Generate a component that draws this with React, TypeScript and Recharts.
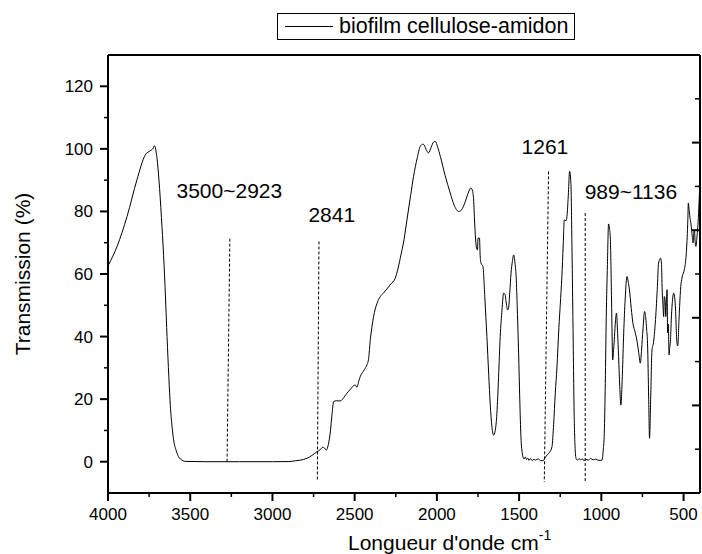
import { LineChart, Line, XAxis, YAxis, ReferenceLine, ReferenceDot, Legend } from "recharts";

const FONT = '"Liberation Sans", Arial, Helvetica, sans-serif';

// FTIR spectrum (cm-1 -> % transmission)
const wavenumbers = [
  3996, 3945, 3884, 3824, 3773, 3743, 3725, 3718, 3702, 3690,
  3675, 3662, 3650, 3641, 3630, 3621, 3610, 3601, 3585, 3571,
  3550, 3530, 3400, 3200, 3000, 2900, 2860, 2831, 2790, 2760,
  2729, 2710, 2695, 2684, 2673, 2660, 2648, 2638, 2628, 2610,
  2588, 2565, 2547, 2525, 2507, 2496, 2486, 2475, 2466, 2440,
  2425, 2415, 2405, 2395, 2385, 2365, 2344, 2324, 2304, 2280,
  2253, 2240, 2223, 2200, 2182, 2160, 2142, 2120, 2101, 2085,
  2077, 2063, 2051, 2035, 2020, 2010, 1995, 1979, 1950, 1919,
  1895, 1868, 1850, 1827, 1805, 1793, 1783, 1777, 1770, 1763,
  1758, 1753, 1750, 1741, 1737, 1732, 1720, 1708, 1696, 1685,
  1676, 1665, 1655, 1645, 1635, 1625, 1615, 1604, 1594, 1586,
  1578, 1570, 1564, 1557, 1549, 1541, 1533, 1525, 1517, 1510,
  1503, 1496, 1489, 1480, 1477, 1470, 1462, 1455, 1447, 1440,
  1432, 1420, 1410, 1400, 1385, 1370, 1355, 1345, 1331, 1315,
  1300, 1290, 1280, 1270, 1258, 1250, 1240, 1232, 1225, 1215,
  1209, 1200, 1193, 1185, 1179, 1173, 1165, 1158, 1154, 1145,
  1135, 1125, 1115, 1105, 1095, 1080, 1065, 1050, 1035, 1015,
  996, 988, 982, 976, 970, 963, 956, 950, 945, 938,
  931, 925, 920, 914, 908, 901, 895, 888, 881, 872,
  864, 855, 844, 835, 829, 818, 808, 795, 784, 773,
  763, 755, 747, 737, 730, 724, 719, 712, 707, 700,
  692, 683, 672, 660, 652, 646, 640, 634, 630, 625,
  621, 617, 612, 608, 604, 600, 597, 593, 588, 584,
  580, 575, 569, 560, 550, 540, 535, 528, 524, 517,
  510, 498, 490, 482, 474, 471, 467, 461, 455, 447,
  442, 438, 434, 429, 425, 420, 415, 410, 405, 402,
];

const transmission = [
  63, 68.8, 78.4, 90.1, 98.1, 99.4, 100.2, 101, 97, 90,
  78, 66, 52, 40, 27, 18, 11, 7, 3.5, 1.6,
  0.5, 0.1, 0, 0, 0, 0.05, 0.3, 0.5, 1.1, 2,
  3.2, 3.8, 4.6, 4.4, 3.7, 5.5, 9.5, 15, 19.2, 19.5,
  19.4, 20.6, 21.9, 23.2, 24.3, 24.5, 23.8, 25.8, 27.2, 29.5,
  31, 33, 39, 43, 46.4, 50.5, 52.8, 54, 55.2, 56.8,
  58.7, 61, 65, 71, 77.3, 85, 91.2, 97, 100.8, 101.5,
  101.2, 99.5, 98.7, 100.5, 102.2, 102.4, 100.5, 97.6, 91.5, 85.9,
  82, 80, 80.5, 83.2, 86.5, 87.5, 86.5, 84, 76, 70,
  68, 67.7, 71.5, 71.5, 66, 63.5, 62.4, 52, 40, 28,
  18.7, 11, 8.5, 10, 15.5, 27, 40, 48.5, 53.9, 53.5,
  50.7, 48.5, 49.1, 54, 60.3, 64, 66.1, 63.5, 58.1, 47,
  34.7, 20, 8, 2.5, 1.6, 0.9, 1.5, 0.7, 1.2, 0.4,
  1, 0.4, 0.8, 0.5, 0.9, 0.4, 0.3, 1, 2.1, 3,
  4.8, 12, 22, 30, 43, 50, 59.2, 69, 77.3, 77,
  78.4, 86, 92.8, 89, 70, 46.4, 14.4, 3, 1.1, 0.5,
  1, 0.6, 0.9, 0.3, 0.8, 0.5, 1, 0.6, 0.8, 0.4,
  0.5, 4, 9.1, 25, 46.4, 63, 76, 74.5, 71, 52,
  32.5, 36, 40, 45, 47.5, 41, 33.6, 24, 18.1, 28,
  41.1, 52, 59.2, 57, 54.9, 49, 44.3, 41.5, 38.9, 35,
  31.5, 36, 42.1, 48, 46, 42, 37.9, 20, 7.5, 20,
  35.7, 38, 44.3, 55, 63.5, 64.5, 65.1, 63, 54.9, 50,
  46.4, 52.8, 51.5, 46.4, 51.5, 55, 41.2, 44, 34.1, 36.5,
  38.4, 45, 50.5, 53.9, 50, 37.9, 37, 45, 49.6, 56,
  58.7, 60.8, 63, 67.7, 77.3, 82.7, 81, 78, 76, 72,
  69.9, 73, 74, 70, 68.8, 71, 74, 78, 84, 88,
];

const seriesName = "biofilm cellulose-amidon";

const xMajorTicks = [4000, 3500, 3000, 2500, 2000, 1500, 1000, 500];
const xMinorTicks = [3750, 3250, 2750, 2250, 1750, 1250, 750];
const yMajorTicks = [0, 20, 40, 60, 80, 100, 120];
const yMinorTicks = [10, 30, 50, 70, 90, 110];
const topLongTicks = [3280, 2560, 1840, 1120];
const topShortTicks = [3640, 2920, 2200, 1480, 760];
const rightLongTicks = [18, 46, 74, 102];
const rightShortTicks = [4, 32, 60, 88, 116];

// peak markers: label text, label anchor, dashed line top and bottom
const peakLabels = ["3500~2923", "2841", "1261", "989~1136"];
const labelX = [3262, 2639, 1343, 820];
const labelY = [86.8, 79.1, 100.7, 86.5];
const markerTopX = [3259, 2717, 1321, 1098];
const markerTopY = [71.3, 70.4, 92.8, 79.5];
const markerBottomX = [3276, 2727, 1347, 1098];
const markerBottomY = [0, -6, -6.5, -6.5];

const data = wavenumbers.map((w, i) => ({ w, t: transmission[i] }));

const X_DOMAIN: [number, number] = [400, 4000];
const Y_DOMAIN: [number, number] = [-10, 130];

const sortDesc = (a: number[], b: number[]) => [...a, ...b].sort((p, q) => q - p);

// one tick renderer per side; draws the tick mark itself (long for major, short for minor)
function makeTick(side: "bottom" | "left" | "top" | "right", majors: number[], longLen: number, shortLen: number, labels: boolean) {
  return (props: any) => {
    const { x, y, payload } = props;
    const v = payload.value;
    const major = majors.includes(v);
    const len = major ? longLen : shortLen;
    const sw = major ? 2 : 1.5;
    let x2 = x;
    let y2 = y;
    if (side === "bottom") y2 = y + len;
    if (side === "top") y2 = y + len;
    if (side === "left") x2 = x - len;
    if (side === "right") x2 = x - len;
    return (
      <g>
        <line x1={x} y1={y} x2={x2} y2={y2} stroke="#000" strokeWidth={sw} />
        {labels && major && side === "bottom" && (
          <text x={x} y={y + 27} textAnchor="middle" fontSize={17} fontFamily={FONT} fill="#000">{v}</text>
        )}
        {labels && major && side === "left" && (
          <text x={x - 15} y={y + 6} textAnchor="end" fontSize={17} fontFamily={FONT} fill="#000">{v}</text>
        )}
      </g>
    );
  };
}

const bottomTick = makeTick("bottom", xMajorTicks, 8, 4, true);
const leftTick = makeTick("left", yMajorTicks, 8, 4, true);
const topTick = makeTick("top", topLongTicks, 9, 5, false);
const rightTick = makeTick("right", rightLongTicks, 8, 5, false);

function XTitle(props: any) {
  const vb = props.viewBox || { x: 108, y: 493 };
  return (
    <text x={vb.x + 240} y={vb.y + 57} fontFamily={FONT} fontSize={21} fill="#000">
      Longueur d'onde cm
      <tspan dy={-10} fontSize={14}>-1</tspan>
    </text>
  );
}

function YTitle(props: any) {
  const vb = props.viewBox || { x: 107, y: 55, width: 1, height: 438 };
  const x = vb.x + vb.width - 78;
  const y = vb.y + vb.height / 2;
  return (
    <text x={x} y={y} transform={`rotate(-90, ${x}, ${y})`} textAnchor="middle" fontFamily={FONT} fontSize={21} fill="#000">
      Transmission (%)
    </text>
  );
}

const renderLegend = () => (
  <div
    style={{
      boxSizing: "border-box",
      width: 298,
      height: 27,
      border: "1px solid #000",
      background: "#fff",
      display: "flex",
      alignItems: "center",
      fontFamily: FONT,
      fontSize: 21.5,
      color: "#000",
      whiteSpace: "nowrap",
    }}
  >
    <span style={{ display: "inline-block", width: 48, borderTop: "1px solid #000", marginLeft: 7, marginRight: 6 }} />
    <span style={{ lineHeight: 1 }}>{seriesName}</span>
  </div>
);

const axisStroke = { stroke: "#000", strokeWidth: 2 };

export default function App() {
  return (
    <div style={{ position: "absolute", left: 0, top: 0, background: "#fff" }}>
      <LineChart width={702} height={554} data={data} margin={{ top: 55, right: 2, bottom: 60, left: 107 }}>
        <XAxis xAxisId="x" dataKey="w" type="number" domain={X_DOMAIN} reversed allowDataOverflow
          ticks={sortDesc(xMajorTicks, xMinorTicks)} interval={0} height={1} tickSize={0} tickMargin={0}
          axisLine={axisStroke} tickLine={false} tick={bottomTick} label={<XTitle />} />
        <XAxis xAxisId="top" orientation="top" mirror type="number" domain={X_DOMAIN} reversed allowDataOverflow
          ticks={sortDesc(topLongTicks, topShortTicks)} interval={0} height={1} tickSize={0} tickMargin={0}
          axisLine={axisStroke} tickLine={false} tick={topTick} />
        <YAxis yAxisId="y" type="number" domain={Y_DOMAIN} allowDataOverflow
          ticks={sortDesc(yMajorTicks, yMinorTicks)} interval={0} width={1} tickSize={0} tickMargin={0}
          axisLine={axisStroke} tickLine={false} tick={leftTick} label={<YTitle />} />
        <YAxis yAxisId="right" orientation="right" mirror type="number" domain={Y_DOMAIN} allowDataOverflow
          ticks={sortDesc(rightLongTicks, rightShortTicks)} interval={0} width={1} tickSize={0} tickMargin={0}
          axisLine={axisStroke} tickLine={false} tick={rightTick} />

        {peakLabels.map((lab, i) => (
          <ReferenceLine
            key={`m-${lab}`}
            xAxisId="x"
            yAxisId="y"
            segment={[
              { x: markerTopX[i], y: markerTopY[i] },
              { x: markerBottomX[i], y: markerBottomY[i] },
            ]}
            stroke="#000"
            strokeWidth={1}
            strokeDasharray="3 2"
          />
        ))}
        {peakLabels.map((lab, i) => (
          <ReferenceDot
            key={`l-${lab}`}
            xAxisId="x"
            yAxisId="y"
            x={labelX[i]}
            y={labelY[i]}
            r={0}
            fill="none"
            stroke="none"
            label={{ value: lab, position: "center", fontSize: 21, fill: "#000", fontFamily: FONT }}
          />
        ))}

        <Line
          xAxisId="x"
          yAxisId="y"
          name={seriesName}
          dataKey="t"
          type="monotone"
          stroke="#000"
          strokeWidth={1}
          dot={false}
          activeDot={false}
          isAnimationActive={false}
        />
        <Legend
          layout="vertical"
          align="center"
          verticalAlign="middle"
          wrapperStyle={{ left: 277, top: 13, width: 298 }}
          content={renderLegend}
        />
      </LineChart>
    </div>
  );
}
